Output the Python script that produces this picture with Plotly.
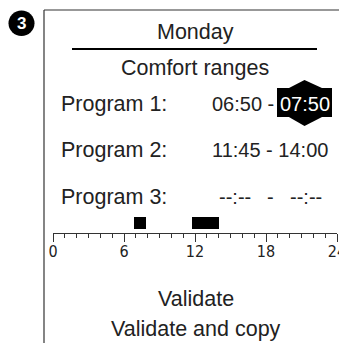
import plotly.graph_objects as go

W, H = 339, 343

# ---- data ----
DAY = "Monday"
SUBTITLE = "Comfort ranges"
program_labels = ["Program 1:", "Program 2:", "Program 3:"]
start_texts = ["06:50", "11:45", "--:--"]
end_texts = ["07:50", "14:00", "--:--"]
start_hours = [6 + 50 / 60, 11 + 45 / 60]
end_hours = [7 + 50 / 60, 14.0]
tick_vals = [0, 6, 12, 18, 24]
tick_text = ["0", "6", "12", "18", "24"]
menu_items = ["Validate", "Validate and copy"]
step_label = "3"


def px(x):
    return x / W


def py(y):
    return 1 - y / H


FONT = "Liberation Sans, Arial, sans-serif"
NARROW = "Liberation Sans Narrow, Arial Narrow, DejaVu Sans Condensed, sans-serif"
TXT = "#222222"

fig = go.Figure()

# timeline bars (horizontal bars from start to end hour)
fig.add_trace(go.Bar(
    x=[e - s for s, e in zip(start_hours, end_hours)],
    base=start_hours,
    y=[10] * len(start_hours),
    width=[12] * len(start_hours),
    orientation="h",
    marker=dict(color="black", line=dict(width=0)),
    hoverinfo="skip",
    showlegend=False,
))

shapes = []
ann = []

# frame lines
shapes.append(dict(type="line", xref="paper", yref="paper",
                   x0=px(44), x1=px(44), y0=py(10), y1=py(343),
                   line=dict(color="#333333", width=1.2)))
shapes.append(dict(type="line", xref="paper", yref="paper",
                   x0=px(44), x1=px(339), y0=py(10), y1=py(10),
                   line=dict(color="#333333", width=1.2)))
# underline under day
shapes.append(dict(type="line", xref="paper", yref="paper",
                   x0=px(72), x1=px(317), y0=py(49), y1=py(49),
                   line=dict(color="black", width=2)))
# step circle
shapes.append(dict(type="circle", xref="paper", yref="paper",
                   x0=px(8.5), x1=px(34.5), y0=py(36), y1=py(10.5),
                   fillcolor="black", line=dict(width=0)))
# highlight box
shapes.append(dict(type="rect", xref="paper", yref="paper",
                   x0=px(277), x1=px(332), y0=py(117), y1=py(88),
                   fillcolor="black", line=dict(width=0)))


def tri(points):
    d = "M " + " L ".join(f"{px(x)},{py(y)}" for x, y in points) + " Z"
    return dict(type="path", xref="paper", yref="paper", path=d,
                fillcolor="black", line=dict(width=0))


shapes.append(tri([(288, 88.5), (323, 88.5), (304.5, 80)]))
shapes.append(tri([(288, 116.5), (323, 116.5), (304.5, 126)]))


def add_text(x, y, text, size=21.5, color=TXT, xanchor="center", family=FONT):
    ann.append(dict(x=px(x), y=py(y), text=text, xanchor=xanchor, yanchor="middle",
                    xref="paper", yref="paper", showarrow=False,
                    font=dict(family=family, size=size, color=color)))


add_text(21.5, 23.5, "<b>" + step_label + "</b>", size=17, color="white")
add_text(195, 32, DAY)
add_text(195, 68, SUBTITLE)

row_y = [104, 150, 197]
for i, lab in enumerate(program_labels):
    add_text(59, row_y[i], lab, xanchor="left")

TS = 20
# row 1
add_text(210, row_y[0], start_texts[0] + " -", xanchor="left", size=TS)
add_text(304.5, row_y[0], end_texts[0], color="white", size=TS)
# row 2
add_text(330, row_y[1], start_texts[1] + " - " + end_texts[1], xanchor="right", size=TS)
# row 3
add_text(235, row_y[2], start_texts[2], size=TS)
add_text(270, row_y[2], "-", size=TS)
add_text(306, row_y[2], end_texts[2], size=TS)

add_text(196, 299, menu_items[0])
add_text(196, 329, menu_items[1])

fig.update_layout(
    width=W, height=H,
    margin=dict(l=0, r=0, t=0, b=0),
    paper_bgcolor="white", plot_bgcolor="white",
    shapes=shapes, annotations=ann,
    xaxis=dict(
        domain=[px(53), px(337)], range=[0, 24],
        tickvals=tick_vals, ticktext=tick_text,
        ticks="outside", ticklen=8, tickwidth=1, tickcolor="#333333",
        minor=dict(dtick=1, ticks="outside", ticklen=4, tickwidth=1, tickcolor="#333333"),
        showline=True, linecolor="#333333", linewidth=1,
        showgrid=False, zeroline=False,
        tickfont=dict(family=NARROW, size=16, color=TXT),
        ticklabeloverflow="allow",
        ticklabelstandoff=-4,
        fixedrange=True, automargin=False,
    ),
    yaxis=dict(
        domain=[py(233), py(213)], range=[0, 20],
        visible=False, showgrid=False, zeroline=False, fixedrange=True,
    ),
    bargap=0,
    font=dict(family=FONT),
)

fig.write_html("out.html", config=dict(displayModeBar=False),
               post_script="document.body.style.margin='0px';")
